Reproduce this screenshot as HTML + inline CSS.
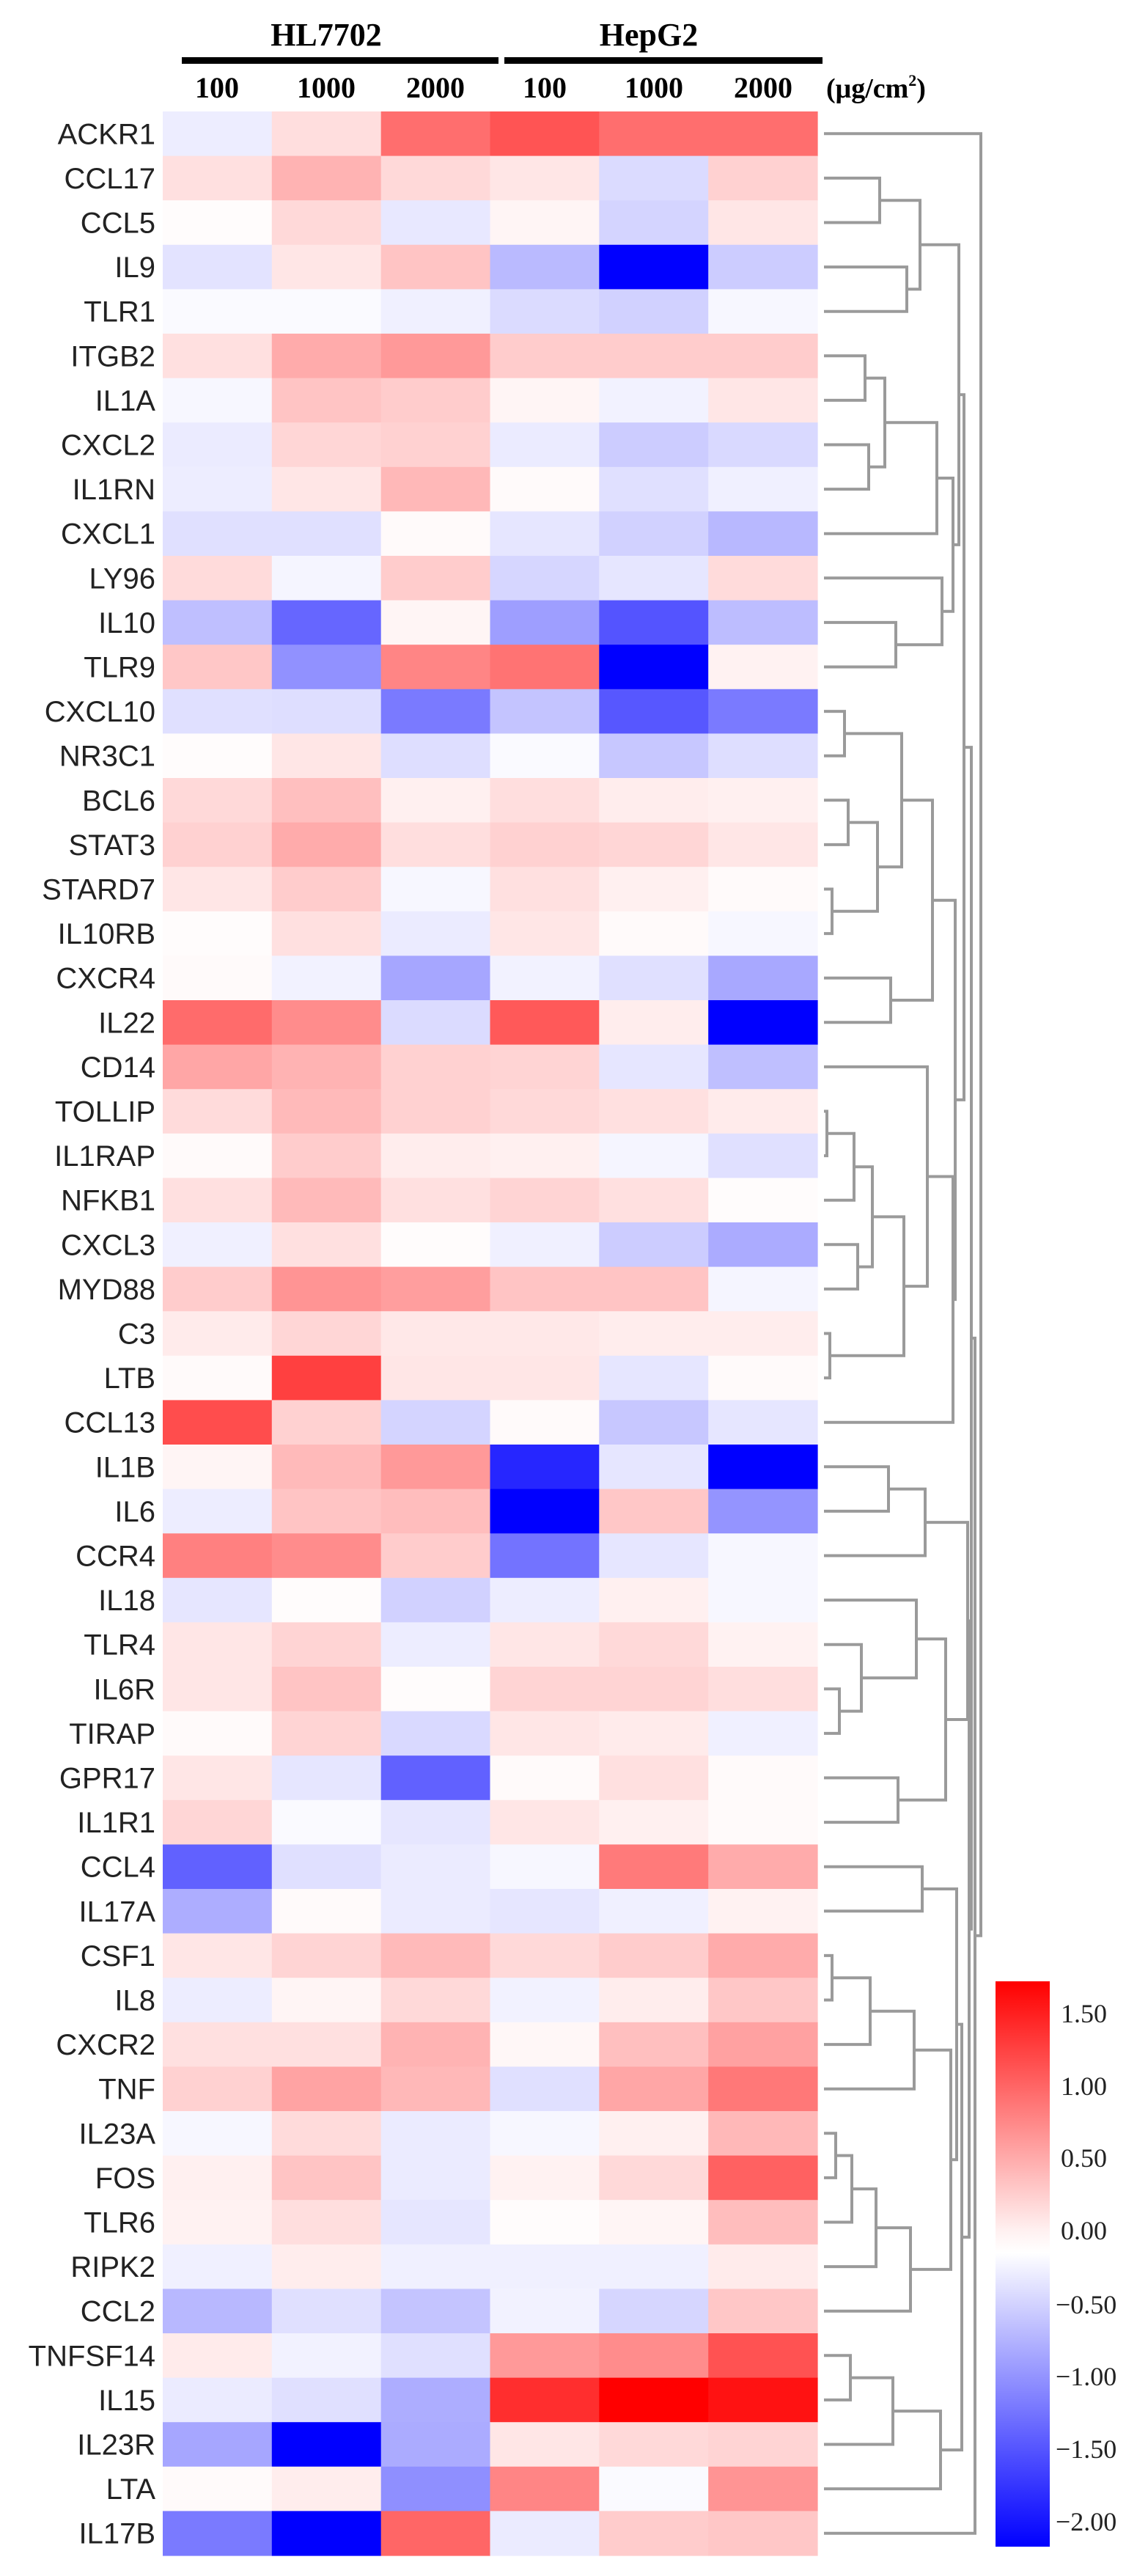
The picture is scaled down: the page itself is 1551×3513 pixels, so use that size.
<!DOCTYPE html>
<html><head><meta charset="utf-8">
<style>
html,body{margin:0;padding:0;background:#fff;}
svg{display:block;}
</style></head>
<body>
<svg id="s" xmlns="http://www.w3.org/2000/svg" width="1551" height="3513" viewBox="0 0 1551 3513">
<defs>
<linearGradient id="cb" x1="0" y1="0" x2="0" y2="1">
<stop offset="0" stop-color="#ff0000"/>
<stop offset="0.44" stop-color="#fff0f0"/>
<stop offset="0.48" stop-color="#ffffff"/>
<stop offset="1" stop-color="#0000ff"/>
</linearGradient>
</defs>
<g font-family="Liberation Serif, serif" font-weight="bold" fill="#000">
<text x="445" y="62" font-size="44" text-anchor="middle">HL7702</text>
<text x="885" y="62" font-size="44" text-anchor="middle">HepG2</text>
<rect x="248" y="78" width="432" height="9"/>
<rect x="688" y="78" width="434" height="9"/>
<g font-size="40" text-anchor="middle">
<text x="296" y="133">100</text><text x="445" y="133">1000</text><text x="594" y="133">2000</text>
<text x="743" y="133">100</text><text x="892" y="133">1000</text><text x="1041" y="133">2000</text>
</g>
<text x="1127" y="133" font-size="38">(μg/cm<tspan font-size="22" dy="-16">2</tspan><tspan dy="16">)</tspan></text>
</g>
<g id="hm"></g>
<g id="lb" font-family="Liberation Sans, sans-serif" font-size="40" fill="#222" text-anchor="end"></g>
<g id="dg" stroke="#9a9a9a" stroke-width="4" fill="none"></g>
<rect x="1358" y="2702" width="74" height="771" fill="url(#cb)"/>
<g font-family="Liberation Serif, serif" font-size="36" fill="#222">
<text x="1447" y="2758">1.50</text>
<text x="1447" y="2857">1.00</text>
<text x="1447" y="2955">0.50</text>
<text x="1447" y="3054">0.00</text>
<text x="1440" y="3155">−0.50</text>
<text x="1440" y="3253">−1.00</text>
<text x="1440" y="3352">−1.50</text>
<text x="1440" y="3451">−2.00</text>
</g>
</svg>
<script>
var names=["ACKR1","CCL17","CCL5","IL9","TLR1","ITGB2","IL1A","CXCL2","IL1RN","CXCL1","LY96","IL10","TLR9","CXCL10","NR3C1","BCL6","STAT3","STARD7","IL10RB","CXCR4","IL22","CD14","TOLLIP","IL1RAP","NFKB1","CXCL3","MYD88","C3","LTB","CCL13","IL1B","IL6","CCR4","IL18","TLR4","IL6R","TIRAP","GPR17","IL1R1","CCL4","IL17A","CSF1","IL8","CXCR2","TNF","IL23A","FOS","TLR6","RIPK2","CCL2","TNFSF14","IL15","IL23R","LTA","IL17B"];
var V=[
[-0.07,0.13,0.57,0.67,0.57,0.57],[0.12,0.3,0.15,0.1,-0.14,0.18],[0.01,0.15,-0.09,0.04,-0.17,0.1],[-0.11,0.1,0.23,-0.27,-1,-0.2],
[-0.02,-0.02,-0.06,-0.14,-0.18,-0.03],[0.12,0.33,0.4,0.2,0.2,0.2],[-0.03,0.23,0.2,0.04,-0.05,0.1],[-0.08,0.16,0.18,-0.08,-0.2,-0.15],
[-0.07,0.1,0.28,0.02,-0.12,-0.06],[-0.12,-0.12,0.02,-0.1,-0.18,-0.28],[0.14,-0.04,0.2,-0.16,-0.1,0.14],[-0.25,-0.6,0.04,-0.38,-0.67,-0.26],
[0.22,-0.43,0.48,0.55,-1,0.05],[-0.12,-0.13,-0.52,-0.23,-0.66,-0.52],[0.01,0.1,-0.13,-0.02,-0.22,-0.13],[0.15,0.25,0.06,0.13,0.07,0.06],
[0.18,0.33,0.13,0.18,0.16,0.1],[0.1,0.2,-0.03,0.12,0.06,0.02],[0.01,0.12,-0.08,0.1,0.02,-0.03],[0.02,-0.05,-0.35,-0.05,-0.12,-0.34],
[0.58,0.45,-0.14,0.65,0.07,-1],[0.35,0.3,0.18,0.17,-0.1,-0.25],[0.14,0.27,0.18,0.15,0.12,0.08],[0.02,0.2,0.07,0.06,-0.04,-0.12],
[0.12,0.27,0.12,0.17,0.12,0.01],[-0.06,0.12,0.01,-0.06,-0.2,-0.33],[0.2,0.42,0.38,0.23,0.23,-0.04],[0.08,0.16,0.09,0.09,0.07,0.07],
[0.02,0.75,0.1,0.1,-0.1,0.02],[0.7,0.18,-0.17,0.02,-0.22,-0.1],[0.04,0.27,0.4,-0.85,-0.1,-1],[-0.07,0.23,0.26,-1,0.22,-0.42],
[0.5,0.45,0.2,-0.55,-0.1,-0.03],[-0.1,0.01,-0.18,-0.07,0.06,-0.03],[0.1,0.17,-0.07,0.1,0.15,0.05],[0.1,0.23,0.01,0.17,0.17,0.13],
[0.02,0.17,-0.15,0.1,0.08,-0.06],[0.1,-0.1,-0.62,0.02,0.12,0.02],[0.16,-0.02,-0.1,0.1,0.06,0.02],[-0.62,-0.12,-0.08,-0.03,0.52,0.33],
[-0.32,0.02,-0.08,-0.1,-0.06,0.05],[0.1,0.17,0.27,0.15,0.2,0.33],[-0.07,0.04,0.15,-0.05,0.07,0.22],[0.12,0.12,0.3,0.03,0.25,0.37],
[0.18,0.36,0.28,-0.12,0.35,0.53],[-0.03,0.14,-0.08,-0.03,0.06,0.28],[0.06,0.23,-0.08,0.05,0.15,0.62],[0.05,0.13,-0.1,0.01,0.04,0.26],
[-0.06,0.07,-0.06,-0.06,-0.06,0.08],[-0.28,-0.12,-0.23,-0.05,-0.16,0.22],[0.08,-0.05,-0.12,0.4,0.45,0.68],[-0.08,-0.12,-0.32,0.82,1,0.93],
[-0.35,-1,-0.33,0.1,0.15,0.17],[0.02,0.07,-0.44,0.48,-0.02,0.42],[-0.52,-1,0.6,-0.08,0.2,0.22]];
var NS="http://www.w3.org/2000/svg";
function el(t,a,p){var e=document.createElementNS(NS,t);for(var k in a)e.setAttribute(k,a[k]);p.appendChild(e);return e;}
var x0=222,cw=148.83,y0=152,rh=60.6;
var hm=document.getElementById("hm"),lb=document.getElementById("lb"),dg=document.getElementById("dg");
function col(t){var c=Math.round(255*(1-Math.abs(t)));return t>=0?"rgb(255,"+c+","+c+")":"rgb("+c+","+c+",255)";}
for(var i=0;i<names.length;i++){
 for(var j=0;j<6;j++){el("rect",{x:(x0+j*cw).toFixed(1),y:(y0+i*rh).toFixed(1),width:(cw+0.6).toFixed(1),height:(rh+0.6).toFixed(1),fill:col(V[i][j])},hm);}
 var t=el("text",{x:212,y:(y0+i*rh+rh/2+14).toFixed(1)},lb);t.textContent=names[i];
}
function idx(n){return names.indexOf(n);}
// tree: [left,right,height] or leaf name
function L(n){return n;}
var T1=[[ "CCL17","CCL5",1200],["IL9","TLR1",1237],1255];
var T2=[[["ITGB2","IL1A",1180],["CXCL2","IL1RN",1185],1207],"CXCL1",1278];
var T3=["LY96",["IL10","TLR9",1222],1285];
var A=[T1,[T2,T3,1300],1308];
var B=[[["CXCL10","NR3C1",1152],[["BCL6","STAT3",1157],["STARD7","IL10RB",1135],1197],1230],["CXCR4","IL22",1215],1272];
var C=[["CD14",[[[["TOLLIP","IL1RAP",1128],"NFKB1",1165],["CXCL3","MYD88",1170],1190],["C3","LTB",1132],1233],1265],"CCL13",1300];
var D2=[["IL18",["TLR4",["IL6R","TIRAP",1145],1175],1250],["GPR17","IL1R1",1225],1290];
var D=[[["IL1B","IL6",1212],"CCR4",1262],D2,1320];
var E=[["CCL4","IL17A",1258],[[[["CSF1","IL8",1135],"CXCR2",1187],"TNF",1247],[[[["IL23A","FOS",1140],"TLR6",1162],"RIPK2",1195],"CCL2",1242],1297],1305];
var F=[[["TNFSF14","IL15",1160],"IL23R",1218],"LTA",1283];
var U=[A,[B,C,1303],1315];
var Vv=[D,[E,F,1312],1322];
var W=[U,Vv,1325];
var R1=[W,"IL17B",1330];
var root=["ACKR1",R1,1338];
var lx=1124;
function draw(n){
 if(typeof n==="string"){return {y:y0+idx(n)*rh+rh/2,x:lx};}
 var a=draw(n[0]),b=draw(n[1]),h=n[2];
 el("path",{d:"M"+a.x+" "+a.y.toFixed(1)+"H"+h+"V"+b.y.toFixed(1)+"H"+b.x},dg);
 return {y:(a.y+b.y)/2,x:h};
}
draw(root);
</script>
</body></html>
